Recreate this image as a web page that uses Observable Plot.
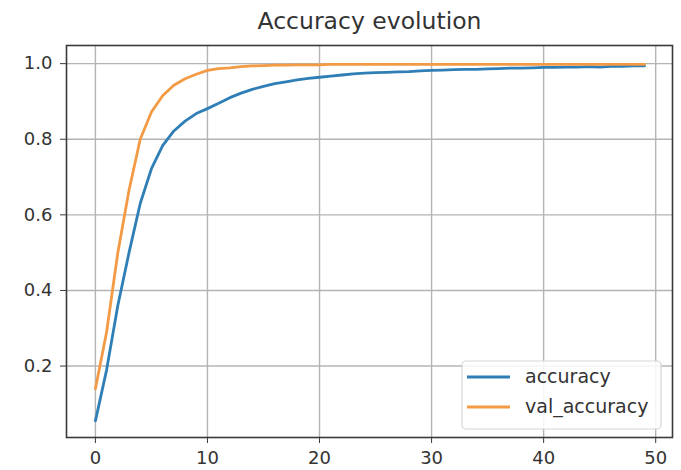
<!DOCTYPE html>
<html>
<head>
<meta charset="utf-8">
<script src="https://cdn.jsdelivr.net/npm/d3@7"></script>
<script src="https://cdn.jsdelivr.net/npm/@observablehq/plot@0.6"></script>
<style>
  html, body { margin: 0; padding: 0; background: #fff; }
  #chart svg { display: block; }
</style>
</head>
<body>
<div id="chart"></div>
<script>
const title = "Accuracy evolution";
const seriesNames = ["accuracy", "val_accuracy"];
const epochs = d3.range(0, 50);
const accuracy = [
  0.055, 0.19, 0.36, 0.50, 0.63, 0.722, 0.783, 0.822, 0.848, 0.868,
  0.881, 0.895, 0.91, 0.922, 0.932, 0.94, 0.947, 0.952, 0.957, 0.961,
  0.964, 0.967, 0.970, 0.973, 0.975, 0.976, 0.977, 0.978, 0.979, 0.981,
  0.982, 0.983, 0.984, 0.985, 0.985, 0.986, 0.987, 0.988, 0.988, 0.989,
  0.990, 0.990, 0.991, 0.991, 0.992, 0.991, 0.993, 0.993, 0.994, 0.994
];
const valAccuracy = [
  0.14, 0.29, 0.50, 0.665, 0.80, 0.872, 0.915, 0.943, 0.96, 0.972,
  0.982, 0.987, 0.989, 0.992, 0.994, 0.995, 0.996, 0.996, 0.997, 0.997,
  0.997, 0.998, 0.998, 0.998, 0.998, 0.998, 0.998, 0.998, 0.998, 0.998,
  0.998, 0.998, 0.998, 0.998, 0.998, 0.998, 0.998, 0.998, 0.998, 0.998,
  0.998, 0.998, 0.998, 0.998, 0.998, 0.998, 0.998, 0.998, 0.998, 0.998
];
const xTicks = [0, 10, 20, 30, 40, 50];
const yTicks = [0.2, 0.4, 0.6, 0.8, 1.0];
const colors = ["#2f7fb6", "#f39a45"];

const rows = [];
epochs.forEach((e, i) => {
  rows.push({epoch: e, value: accuracy[i], series: seriesNames[0]});
});
epochs.forEach((e, i) => {
  rows.push({epoch: e, value: valAccuracy[i], series: seriesNames[1]});
});

const W = 681, H = 470;
const mL = 66, mR = 9, mT = 45, mB = 33;
const font = "DejaVu Sans, sans-serif";

const plot = Plot.plot({
  width: W,
  height: H,
  marginLeft: mL,
  marginRight: mR,
  marginTop: mT,
  marginBottom: mB,
  style: {fontFamily: font, fontSize: "18px", color: "#333", background: "#fff", overflow: "visible"},
  x: {domain: [-2.58, 51.5], ticks: xTicks, tickFormat: d3.format("d"), tickSize: 6, tickPadding: 8, label: null},
  y: {domain: [0.011, 1.048], ticks: yTicks, tickFormat: d3.format(".1f"), tickSize: 6, tickPadding: 8, label: null},
  color: {domain: seriesNames, range: colors},
  marks: [
    Plot.gridX(xTicks, {stroke: "#b4b4b4", strokeOpacity: 1, strokeWidth: 1.4}),
    Plot.gridY(yTicks, {stroke: "#b4b4b4", strokeOpacity: 1, strokeWidth: 1.4}),
    Plot.line(rows, {x: "epoch", y: "value", stroke: "series", z: "series", strokeWidth: 2.8, curve: "linear"}),
    Plot.frame({stroke: "#3a3a3a", strokeWidth: 1.6}),
    Plot.axisX({ticks: xTicks, tickFormat: d3.format("d"), tickSize: 6, tickPadding: 8, stroke: "#3a3a3a", fill: "#333", label: null}),
    Plot.axisY({ticks: yTicks, tickFormat: d3.format(".1f"), tickSize: 6, tickPadding: 8, stroke: "#3a3a3a", fill: "#333", label: null}),
    Plot.text([title], {frameAnchor: "top", dy: -17, lineAnchor: "bottom", fontSize: 23.5, fill: "#333", text: d => d})
  ]
});

document.getElementById("chart").appendChild(plot);

// Legend (matplotlib-style, lower right inside the axes)
const svg = d3.select(plot);
const right = W - mR, bottom = H - mB;
const boxW = 199, boxH = 68;
const bx = right - 11 - boxW, by = bottom - 8 - boxH;
const g = svg.append("g").attr("font-family", font).attr("text-anchor", "start");
g.append("rect")
  .attr("x", bx).attr("y", by).attr("width", boxW).attr("height", boxH)
  .attr("rx", 4).attr("fill", "#fff").attr("fill-opacity", 0.85)
  .attr("stroke", "#d6d6d6").attr("stroke-width", 1.2);
seriesNames.forEach((name, i) => {
  const cy = by + 16 + i * 30;
  g.append("line")
    .attr("x1", bx + 5).attr("x2", bx + 48).attr("y1", cy).attr("y2", cy)
    .attr("stroke", colors[i]).attr("stroke-width", 2.8);
  g.append("text")
    .attr("x", bx + 63).attr("y", cy + 6)
    .attr("text-anchor", "start")
    .attr("font-size", 19).attr("fill", "#333")
    .text(name);
});
</script>
</body>
</html>
